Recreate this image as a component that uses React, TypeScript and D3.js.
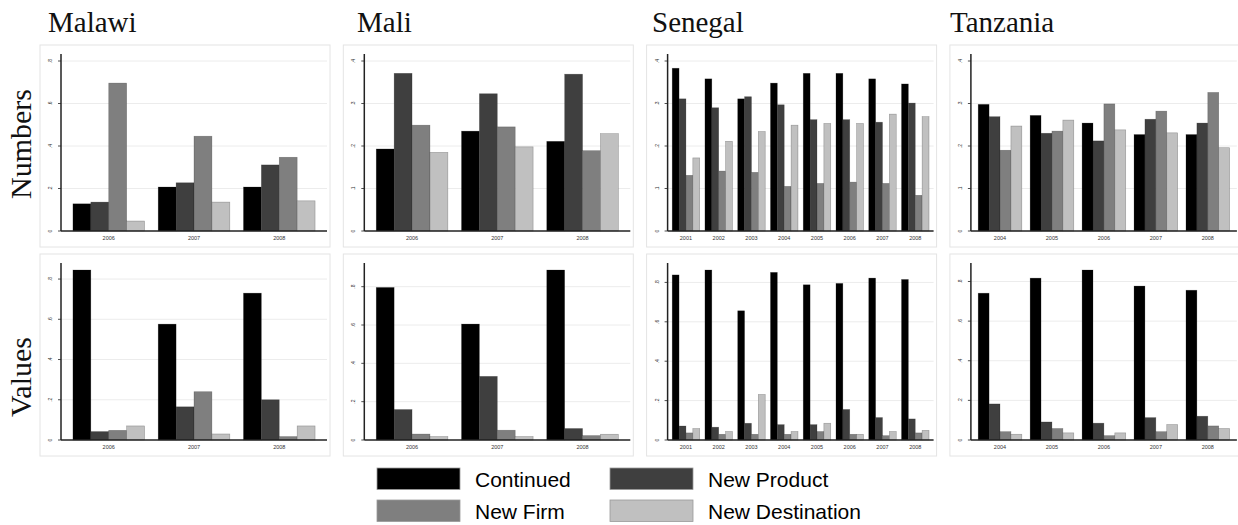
import React from 'react';
import * as d3 from 'd3';

// series, in bar order within each year group
const seriesNames = ['Continued', 'New Product', 'New Firm', 'New Destination'];
const seriesColors = ['#000000', '#3f3f3f', '#7f7f7f', '#c0c0c0'];

const countries = ['Malawi', 'Mali', 'Senegal', 'Tanzania'];
const rowLabels = ['Numbers', 'Values'];

const malawiYears = ['2006', '2007', '2008'];
const maliYears = ['2006', '2007', '2008'];
const senegalYears = ['2001', '2002', '2003', '2004', '2005', '2006', '2007', '2008'];
const tanzaniaYears = ['2004', '2005', '2006', '2007', '2008'];

// each row: [Continued, New Product, New Firm, New Destination]
const malawiNumbers = [
  [0.128, 0.136, 0.696, 0.047],
  [0.207, 0.227, 0.446, 0.136],
  [0.207, 0.311, 0.347, 0.142],
];
const maliNumbers = [
  [0.193, 0.371, 0.249, 0.185],
  [0.235, 0.323, 0.245, 0.198],
  [0.211, 0.369, 0.189, 0.229],
];
const senegalNumbers = [
  [0.383, 0.311, 0.131, 0.172],
  [0.358, 0.29, 0.141, 0.211],
  [0.311, 0.316, 0.138, 0.234],
  [0.348, 0.297, 0.105, 0.249],
  [0.371, 0.262, 0.112, 0.253],
  [0.371, 0.262, 0.115, 0.253],
  [0.358, 0.256, 0.112, 0.275],
  [0.346, 0.301, 0.084, 0.269],
];
const tanzaniaNumbers = [
  [0.298, 0.269, 0.19, 0.247],
  [0.272, 0.23, 0.235, 0.261],
  [0.254, 0.212, 0.299, 0.238],
  [0.227, 0.263, 0.282, 0.231],
  [0.227, 0.254, 0.326, 0.196],
];

const malawiValues = [
  [0.845, 0.042, 0.048, 0.07],
  [0.576, 0.165, 0.24, 0.03],
  [0.73, 0.2, 0.017, 0.07],
];
const maliValues = [
  [0.796, 0.159, 0.031, 0.018],
  [0.605, 0.332, 0.051, 0.018],
  [0.887, 0.06, 0.023, 0.03],
];
const senegalValues = [
  [0.838, 0.071, 0.036, 0.058],
  [0.863, 0.065, 0.029, 0.043],
  [0.656, 0.085, 0.029, 0.231],
  [0.851, 0.078, 0.029, 0.043],
  [0.788, 0.078, 0.043, 0.085],
  [0.795, 0.155, 0.029, 0.029],
  [0.822, 0.114, 0.022, 0.043],
  [0.815, 0.107, 0.036, 0.049],
];
const tanzaniaValues = [
  [0.741, 0.182, 0.042, 0.029],
  [0.817, 0.091, 0.058, 0.036],
  [0.858, 0.085, 0.022, 0.036],
  [0.777, 0.113, 0.042, 0.078],
  [0.756, 0.12, 0.071, 0.058],
];

// y tick labels
const wideTicks = [0, 0.2, 0.4, 0.6, 0.8];
const narrowTicks = [0, 0.1, 0.2, 0.3, 0.4];

const panelYears = [malawiYears, maliYears, senegalYears, tanzaniaYears];
const numbersData = [malawiNumbers, maliNumbers, senegalNumbers, tanzaniaNumbers];
const valuesData = [malawiValues, maliValues, senegalValues, tanzaniaValues];
const numbersTicks = [wideTicks, narrowTicks, narrowTicks, narrowTicks];
const valuesTicks = [wideTicks, wideTicks, wideTicks, wideTicks];

const W = 1238;
const H = 525;
const boxW = 290;
const boxH = 202;
const colLeft = (i: number) => 40 + i * 303.3;
const rowTop = [45, 254];
const titleX = [48, 357, 652, 950];
const plotH = 170;

const fmtTick = (v: number) => (v === 0 ? '0' : String(+v.toFixed(1)).replace(/^0/, ''));

interface PanelProps {
  x0: number;
  y0: number;
  years: string[];
  rows: number[][];
  ticks: number[];
}

const Panel = ({ x0, y0, years, rows, ticks }: PanelProps) => {
  const left = x0 + 21;
  const right = x0 + 287;
  const base = y0 + 186;
  const top = base - plotH;

  const yMax = Math.max(ticks[ticks.length - 1], d3.max(rows, (r) => d3.max(r) as number) as number);
  const y = d3.scaleLinear().domain([0, yMax]).range([base, top]);
  const x = d3.scaleBand<string>().domain(years).range([left, right]).paddingInner(0.16).paddingOuter(0.14);
  const xs = d3.scaleBand<string>().domain(seriesNames).range([0, x.bandwidth()]);

  return (
    <g>
      <rect x={x0} y={y0} width={boxW} height={boxH} fill="#fff" stroke="#e4e4e4" strokeWidth={1} />
      {/* gridlines */}
      {ticks.filter((t) => t > 0).map((t) => (
        <line key={'g' + t} x1={left} x2={right} y1={y(t)} y2={y(t)} stroke="#ececec" strokeWidth={1} />
      ))}
      {/* bars */}
      {years.map((yr, i) => (
        <g key={yr} transform={`translate(${x(yr)},0)`}>
          {rows[i].map((v, j) => (
            <rect
              key={j}
              x={xs(seriesNames[j])}
              y={y(v)}
              width={xs.bandwidth()}
              height={base - y(v)}
              fill={seriesColors[j]}
              stroke="#1a1a1a"
              strokeOpacity={0.35}
              strokeWidth={0.6}
            />
          ))}
        </g>
      ))}
      {/* y axis */}
      <line x1={left} x2={left} y1={base} y2={top - 7} stroke="#222" strokeWidth={1.5} />
      {ticks.map((t) => (
        <g key={'t' + t}>
          <line x1={left - 3} x2={left} y1={y(t)} y2={y(t)} stroke="#222" strokeWidth={0.8} />
          <text
            transform={`translate(${left - 9},${y(t)}) rotate(-90)`}
            fontSize={5}
            textAnchor="middle"
            fill="#333"
            fontFamily="Liberation Sans, Arial, sans-serif"
          >
            {fmtTick(t)}
          </text>
        </g>
      ))}
      {/* x axis */}
      <line x1={left} x2={right} y1={base} y2={base} stroke="#222" strokeWidth={1.5} />
      {years.map((yr) => (
        <text
          key={'x' + yr}
          x={(x(yr) as number) + x.bandwidth() / 2}
          y={base + 9}
          fontSize={5.5}
          textAnchor="middle"
          fill="#333"
          fontFamily="Liberation Sans, Arial, sans-serif"
        >
          {yr}
        </text>
      ))}
    </g>
  );
};

const App = () => {
  return (
    <svg
      width={W}
      height={H}
      style={{ position: 'absolute', left: 0, top: 0, background: '#fff' }}
    >
      <rect width={W} height={H} fill="#fff" />
      {countries.map((c, i) => (
        <text key={c} x={titleX[i]} y={32} fontSize={29} fontFamily="Liberation Serif, Times New Roman, serif" fill="#111">
          {c}
        </text>
      ))}
      {rowLabels.map((lbl, r) => (
        <text
          key={lbl}
          transform={`translate(31,${r === 0 ? 144 : 377}) rotate(-90)`}
          fontSize={30}
          textAnchor="middle"
          fontFamily="Liberation Serif, Times New Roman, serif"
          fill="#111"
        >
          {lbl}
        </text>
      ))}
      {countries.map((c, i) => (
        <g key={'p' + c}>
          <Panel x0={colLeft(i)} y0={rowTop[0]} years={panelYears[i]} rows={numbersData[i]} ticks={numbersTicks[i]} />
          <Panel x0={colLeft(i)} y0={rowTop[1]} years={panelYears[i]} rows={valuesData[i]} ticks={valuesTicks[i]} />
        </g>
      ))}
      {/* legend */}
      {seriesNames.map((s, i) => {
        const lx = i % 2 === 0 ? 377 : 610;
        const ly = i < 2 ? 468 : 500;
        return (
          <g key={'l' + s}>
            <rect x={lx} y={ly} width={83} height={21.5} fill={seriesColors[i]} stroke="#9a9a9a" strokeWidth={0.8} />
            <text x={lx + 98} y={ly + 19} fontSize={21} fontFamily="Liberation Sans, Arial, sans-serif" fill="#000">
              {s}
            </text>
          </g>
        );
      })}
    </svg>
  );
};

export default App;
